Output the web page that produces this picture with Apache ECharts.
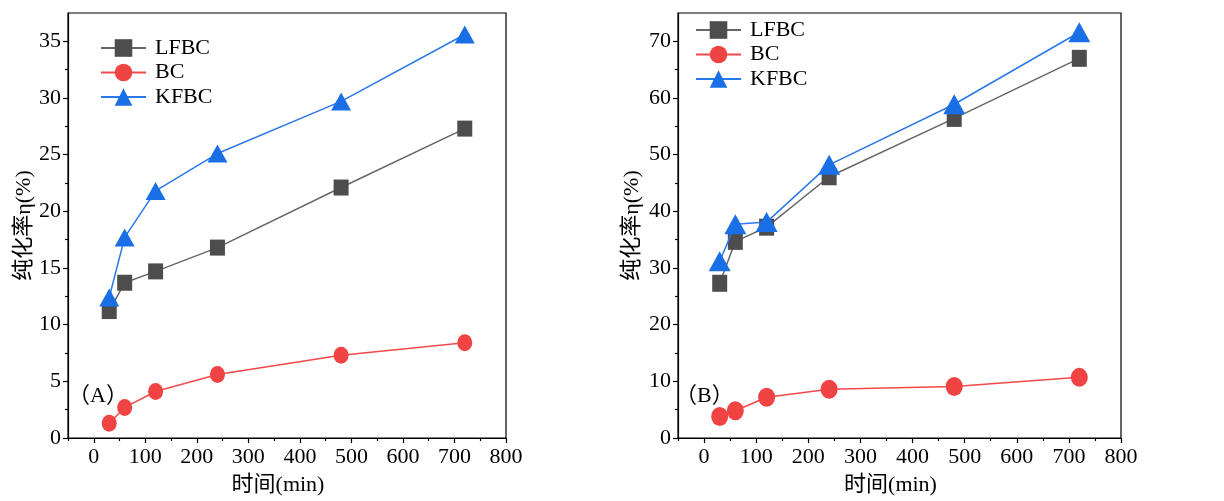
<!DOCTYPE html>
<html>
<head>
<meta charset="utf-8">
<script src="https://cdn.jsdelivr.net/npm/echarts@6/dist/echarts.min.js"></script>
<style>html,body{margin:0;padding:0;background:#fff}#c{width:1224px;height:501px}</style>
</head>
<body>
<div id="c"></div>
<script>
const times = [30, 60, 120, 240, 480, 720];
const seriesNames = ['LFBC', 'BC', 'KFBC'];
const lfbcA = [11.2, 13.7, 14.7, 16.8, 22.1, 27.3];
const bcA   = [1.3, 2.7, 4.1, 5.6, 7.3, 8.4];
const kfbcA = [12.4, 17.7, 21.8, 25.1, 29.7, 35.6];
const lfbcB = [27.3, 34.7, 37.2, 46.1, 56.4, 67.0];
const bcB   = [3.8, 4.8, 7.2, 8.6, 9.1, 10.7];
const kfbcB = [31.2, 37.7, 38.1, 48.2, 58.9, 71.6];
const xMajorTicks = [0, 100, 200, 300, 400, 500, 600, 700, 800];
const xMinorTicks = [-50, 50, 150, 250, 350, 450, 550, 650, 750];
const yMajorTicksA = [0, 5, 10, 15, 20, 25, 30, 35];
const yMinorTicksA = [2.5, 7.5, 12.5, 17.5, 22.5, 27.5, 32.5];
const yMajorTicksB = [0, 10, 20, 30, 40, 50, 60, 70];
const yMinorTicksB = [5, 15, 25, 35, 45, 55, 65];
const panelLetters = ['A', 'B'];
const xTitle = '时间(min)';
const yTitle = '纯化率η(%)';

const FONT = '"Liberation Serif", "Times New Roman", "Noto Sans CJK SC", serif';
const colors = ['#4d4d4d', '#f04343', '#1a6fe6'];
const lineColors = ['#666666', '#f24a4a', '#2a78ea'];
const symbols = ['rect', 'circle', 'triangle'];

const chart = echarts.init(document.getElementById('c'));

function xAxes(gi) {
  return [
    {
      type: 'value', gridIndex: gi, min: -50, max: 800, position: 'bottom',
      name: xTitle, nameLocation: 'middle', nameGap: 36,
      nameTextStyle: {fontFamily: FONT, fontSize: 22, color: '#000', padding: [0, 18, 0, 0]},
      axisLine: {show: true, onZero: false, lineStyle: {color: '#000', width: 1.2}},
      axisTick: {show: true, length: 5, lineStyle: {color: '#000', width: 1.2}, customValues: xMajorTicks},
      axisLabel: {fontFamily: FONT, fontSize: 22, color: '#000', margin: 8, customValues: xMajorTicks},
      splitLine: {show: false}
    },
    {
      type: 'value', gridIndex: gi, min: -50, max: 800, position: 'bottom',
      axisLine: {show: false, onZero: false},
      axisTick: {show: true, length: 3, lineStyle: {color: '#000', width: 1.2}, customValues: xMinorTicks},
      axisLabel: {show: false},
      splitLine: {show: false}
    }
  ];
}
function yAxes(gi, max, major, minor, gap) {
  return [
    {
      type: 'value', gridIndex: gi, min: 0, max: max, position: 'left',
      name: yTitle, nameLocation: 'middle', nameGap: gap, nameRotate: 90,
      nameTextStyle: {fontFamily: FONT, fontSize: 22, color: '#000'},
      axisLine: {show: true, onZero: false, lineStyle: {color: '#000', width: 1.2}},
      axisTick: {show: true, length: 5, lineStyle: {color: '#000', width: 1.2}, customValues: major},
      axisLabel: {fontFamily: FONT, fontSize: 22, color: '#000', margin: 7, customValues: major},
      splitLine: {show: false}
    },
    {
      type: 'value', gridIndex: gi, min: 0, max: max, position: 'left',
      axisLine: {show: false, onZero: false},
      axisTick: {show: true, length: 3, lineStyle: {color: '#000', width: 1.2}, customValues: minor},
      axisLabel: {show: false},
      splitLine: {show: false}
    }
  ];
}

function mkSeries(name, data, idx, axisBase, size) {
  return {
    name: name, type: 'line',
    xAxisIndex: axisBase, yAxisIndex: axisBase,
    data: data.map((v, i) => [times[i], v]),
    symbol: symbols[idx], symbolSize: size,
    itemStyle: {color: colors[idx]},
    lineStyle: {color: lineColors[idx], width: 1.5},
    z: idx === 2 ? 4 : (idx === 0 ? 3 : 2),
    animation: false
  };
}

const sizesA = [[15, 16], [15, 17], [20, 18]];
const sizesB = [[15, 17], [17, 19], [22, 20]];
const dataA = [lfbcA, bcA, kfbcA];
const dataB = [lfbcB, bcB, kfbcB];

const series = [];
seriesNames.forEach((n, i) => series.push(mkSeries(n, dataA[i], i, 0, sizesA[i])));
seriesNames.forEach((n, i) => series.push(mkSeries(n, dataB[i], i, 2, sizesB[i])));

function legend(left, top) {
  return {
    left: left, top: top, padding: 0, orient: 'vertical', itemWidth: 45, itemHeight: 22, itemGap: 2.5,
    data: seriesNames,
    textStyle: {fontFamily: FONT, fontSize: 22, color: '#000', padding: [0, 0, 0, 4], lineHeight: 22},
    selectedMode: false
  };
}

function panelLabel(left, letter) {
  return {
    type: 'text', left: left, top: 385,
    style: {text: '（' + letter + '）', font: '22px ' + FONT, fill: '#000'}
  };
}

chart.setOption({
  animation: false,
  grid: [
    {left: 68, right: 718, top: 13, bottom: 58, show: true, borderColor: '#000', borderWidth: 1.2, backgroundColor: 'transparent'},
    {left: 678, right: 103, top: 13, bottom: 60, show: true, borderColor: '#000', borderWidth: 1.2, backgroundColor: 'transparent'}
  ],
  legend: [legend(100, 37), legend(695, 19)],
  xAxis: [...xAxes(0), ...xAxes(1)],
  yAxis: [...yAxes(0, 37.5, yMajorTicksA, yMinorTicksA, 32), ...yAxes(1, 75, yMajorTicksB, yMinorTicksB, 35)],
  graphic: [panelLabel(68, panelLetters[0]), panelLabel(675, panelLetters[1])],
  series: series
});
</script>
</body>
</html>
